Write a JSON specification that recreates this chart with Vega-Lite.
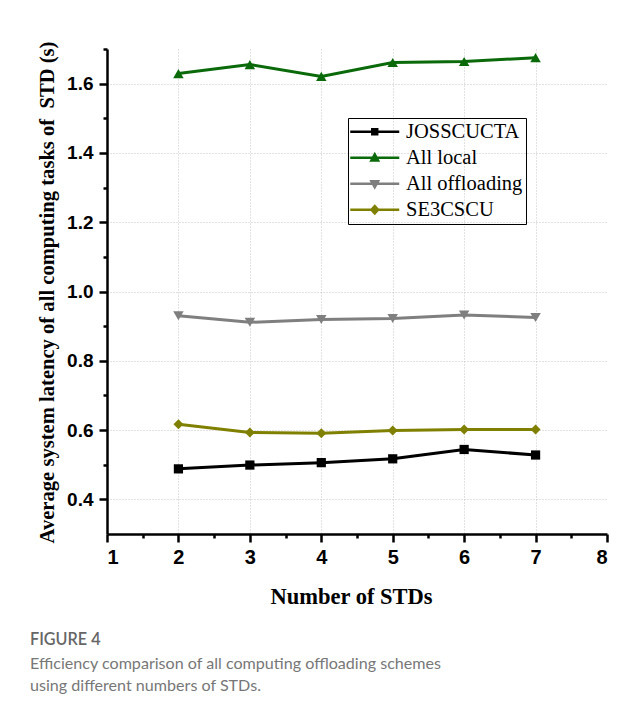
{
  "$schema": "https://vega.github.io/schema/vega-lite/v6.json",
  "width": 500,
  "height": 485,
  "autosize": "none",
  "padding": {"left": 107, "top": 49, "right": 32, "bottom": 188},
  "background": "white",
  "config": {
    "view": {"stroke": null},
    "axis": {"domainColor": "black", "tickColor": "black", "labelColor": "black", "titleColor": "black"},
    "legend": {"orient": "none", "legendX": 241, "legendY": 69, "title": null, "strokeColor": "black", "padding": 3.5,
      "labelFont": "Liberation Serif", "labelFontSize": 20.5, "labelColor": "black", "symbolSize": 49, "symbolStrokeWidth": 2.5,
      "symbolOffset": 13, "labelOffset": 21, "rowPadding": 5, "symbolOpacity": 1}
  },
  "title": {
    "text": "FIGURE 4",
    "subtitle": ["Efficiency comparison of all computing offloading schemes", "using different numbers of STDs."],
    "orient": "bottom",
    "anchor": "start",
    "frame": "group",
    "dx": -77,
    "offset": 24,
    "font": "Lato",
    "fontSize": 16.2,
    "fontWeight": 600,
    "color": "#666666",
    "subtitleFont": "Lato",
    "subtitleFontSize": 16.1,
    "subtitleFontWeight": 400,
    "subtitleColor": "#777777",
    "subtitleLineHeight": 22.5,
    "subtitlePadding": 8
  },
  "data": {
    "values": [
      {"n": 2, "latency": 0.488, "series": "JOSSCUCTA"},
      {"n": 3, "latency": 0.499, "series": "JOSSCUCTA"},
      {"n": 4, "latency": 0.506, "series": "JOSSCUCTA"},
      {"n": 5, "latency": 0.517, "series": "JOSSCUCTA"},
      {"n": 6, "latency": 0.544, "series": "JOSSCUCTA"},
      {"n": 7, "latency": 0.528, "series": "JOSSCUCTA"},
      {"n": 2, "latency": 1.629, "series": "All local"},
      {"n": 3, "latency": 1.655, "series": "All local"},
      {"n": 4, "latency": 1.621, "series": "All local"},
      {"n": 5, "latency": 1.661, "series": "All local"},
      {"n": 6, "latency": 1.664, "series": "All local"},
      {"n": 7, "latency": 1.675, "series": "All local"},
      {"n": 2, "latency": 0.930, "series": "All offloading"},
      {"n": 3, "latency": 0.911, "series": "All offloading"},
      {"n": 4, "latency": 0.919, "series": "All offloading"},
      {"n": 5, "latency": 0.922, "series": "All offloading"},
      {"n": 6, "latency": 0.932, "series": "All offloading"},
      {"n": 7, "latency": 0.925, "series": "All offloading"},
      {"n": 2, "latency": 0.617, "series": "SE3CSCU"},
      {"n": 3, "latency": 0.593, "series": "SE3CSCU"},
      {"n": 4, "latency": 0.591, "series": "SE3CSCU"},
      {"n": 5, "latency": 0.599, "series": "SE3CSCU"},
      {"n": 6, "latency": 0.602, "series": "SE3CSCU"},
      {"n": 7, "latency": 0.602, "series": "SE3CSCU"}
    ]
  },
  "resolve": {"axis": {"x": "independent", "y": "independent"}},
  "layer": [
    {
      "mark": {"type": "point", "opacity": 0},
      "encoding": {
        "x": {"field": "n", "type": "quantitative", "scale": {"domain": [1, 8], "nice": false, "zero": false},
          "axis": {"orient": "bottom", "values": [2, 3, 4, 5, 6, 7], "grid": true, "gridColor": "#c4c4c4", "gridDash": [1, 2], "gridWidth": 1, "ticks": false, "labels": false, "domain": false, "title": null}},
        "y": {"field": "latency", "type": "quantitative", "scale": {"domain": [0.3, 1.7], "nice": false, "zero": false}, "axis": null}
      }
    },
    {
      "mark": {"type": "line", "strokeWidth": 3},
      "encoding": {
        "x": {"field": "n", "type": "quantitative", "scale": {"domain": [1, 8], "nice": false, "zero": false},
          "axis": {"orient": "bottom", "values": [1, 2, 3, 4, 5, 6, 7, 8], "format": "d", "grid": false,
            "tickSize": 8, "tickWidth": 2.5, "domainWidth": 2.5, "labelPadding": 5,
            "labelFont": "Liberation Sans", "labelFontWeight": "bold", "labelFontSize": 20,
            "title": "Number of STDs", "titleFont": "Liberation Serif", "titleFontWeight": "bold", "titleFontSize": 22.5,
            "titleX": 244, "titleY": 69, "titleBaseline": "alphabetic", "titleAlign": "center"}},
        "y": {"field": "latency", "type": "quantitative", "scale": {"domain": [0.3, 1.7], "nice": false, "zero": false},
          "axis": {"orient": "left", "values": [0.4, 0.6, 0.8, 1.0, 1.2, 1.4, 1.6], "format": ".1f", "grid": true,
            "gridColor": "#c4c4c4", "gridDash": [1, 2], "gridWidth": 1,
            "tickSize": 8, "tickWidth": 2.5, "domainWidth": 2.5, "labelPadding": 6,
            "labelFont": "Liberation Sans", "labelFontWeight": "bold", "labelFontSize": 19,
            "title": "Average system latency of all computing tasks of \u00a0STD (s)", "titleFont": "Liberation Serif", "titleFontWeight": "bold", "titleFontSize": 20.6,
            "titleX": -60, "titleY": 243, "titleAngle": -90, "titleBaseline": "middle", "titleAlign": "center"}},
        "stroke": {"field": "series", "type": "nominal",
          "scale": {"domain": ["JOSSCUCTA", "All local", "All offloading", "SE3CSCU"], "range": ["#000000", "#0a6a0a", "#7f7f7f", "#808000"]},
          "legend": {"symbolType": {"expr": "datum.value === 'JOSSCUCTA' ? 'M-7,0H7M-0.7,-0.7H0.7V0.7H-0.7Z' : datum.value === 'All local' ? 'M-7,0H7M0,-0.95L0.95,0.75H-0.95Z' : datum.value === 'All offloading' ? 'M-7,0H7M0,0.95L0.95,-0.75H-0.95Z' : 'M-7,0H7M0,-1.05L0.95,0L0,1.05L-0.95,0Z'"}}}
      }
    },
    {
      "mark": {"type": "point", "filled": true, "opacity": 0},
      "encoding": {
        "x": {"field": "n", "type": "quantitative", "scale": {"domain": [1, 8], "nice": false, "zero": false},
          "axis": {"orient": "bottom", "values": [1.5, 2.5, 3.5, 4.5, 5.5, 6.5, 7.5], "grid": false, "tickSize": 4, "tickWidth": 2.5, "labels": false, "domain": false, "title": null}},
        "y": {"field": "latency", "type": "quantitative", "scale": {"domain": [0.3, 1.7], "nice": false, "zero": false},
          "axis": {"orient": "left", "values": [0.5, 0.7, 0.9, 1.1, 1.3, 1.5, 1.7], "grid": false, "tickSize": 4, "tickWidth": 2.5, "labels": false, "domain": false, "title": null}},
        "fill": {"field": "series", "type": "nominal",
          "scale": {"domain": ["JOSSCUCTA", "All local", "All offloading", "SE3CSCU"], "range": ["#000000", "#0a6a0a", "#7f7f7f", "#808000"]},
          "legend": {"symbolType": {"expr": "datum.value === 'JOSSCUCTA' ? 'M-7,0H7M-0.7,-0.7H0.7V0.7H-0.7Z' : datum.value === 'All local' ? 'M-7,0H7M0,-0.95L0.95,0.75H-0.95Z' : datum.value === 'All offloading' ? 'M-7,0H7M0,0.95L0.95,-0.75H-0.95Z' : 'M-7,0H7M0,-1.05L0.95,0L0,1.05L-0.95,0Z'"}}},
        "stroke": {"field": "series", "type": "nominal",
          "scale": {"domain": ["JOSSCUCTA", "All local", "All offloading", "SE3CSCU"], "range": ["#000000", "#0a6a0a", "#7f7f7f", "#808000"]},
          "legend": {"symbolType": {"expr": "datum.value === 'JOSSCUCTA' ? 'M-7,0H7M-0.7,-0.7H0.7V0.7H-0.7Z' : datum.value === 'All local' ? 'M-7,0H7M0,-0.95L0.95,0.75H-0.95Z' : datum.value === 'All offloading' ? 'M-7,0H7M0,0.95L0.95,-0.75H-0.95Z' : 'M-7,0H7M0,-1.05L0.95,0L0,1.05L-0.95,0Z'"}}}
      }
    },
    {
      "transform": [{"filter": {"field": "series", "equal": "JOSSCUCTA"}}],
      "mark": {"type": "point", "filled": true, "opacity": 1, "size": 85, "shape": "square", "color": "#000000"},
      "encoding": {
        "x": {"field": "n", "type": "quantitative", "axis": null},
        "y": {"field": "latency", "type": "quantitative", "axis": null}
      }
    },
    {
      "transform": [{"filter": {"field": "series", "equal": "All local"}}],
      "mark": {"type": "point", "filled": true, "opacity": 1, "size": 110, "shape": "triangle-up", "color": "#0a6a0a"},
      "encoding": {
        "x": {"field": "n", "type": "quantitative", "axis": null},
        "y": {"field": "latency", "type": "quantitative", "axis": null}
      }
    },
    {
      "transform": [{"filter": {"field": "series", "equal": "All offloading"}}],
      "mark": {"type": "point", "filled": true, "opacity": 1, "size": 110, "shape": "triangle-down", "color": "#7f7f7f"},
      "encoding": {
        "x": {"field": "n", "type": "quantitative", "axis": null},
        "y": {"field": "latency", "type": "quantitative", "axis": null}
      }
    },
    {
      "transform": [{"filter": {"field": "series", "equal": "SE3CSCU"}}],
      "mark": {"type": "point", "filled": true, "opacity": 1, "size": 100, "shape": "diamond", "color": "#808000"},
      "encoding": {
        "x": {"field": "n", "type": "quantitative", "axis": null},
        "y": {"field": "latency", "type": "quantitative", "axis": null}
      }
    }
  ]
}
